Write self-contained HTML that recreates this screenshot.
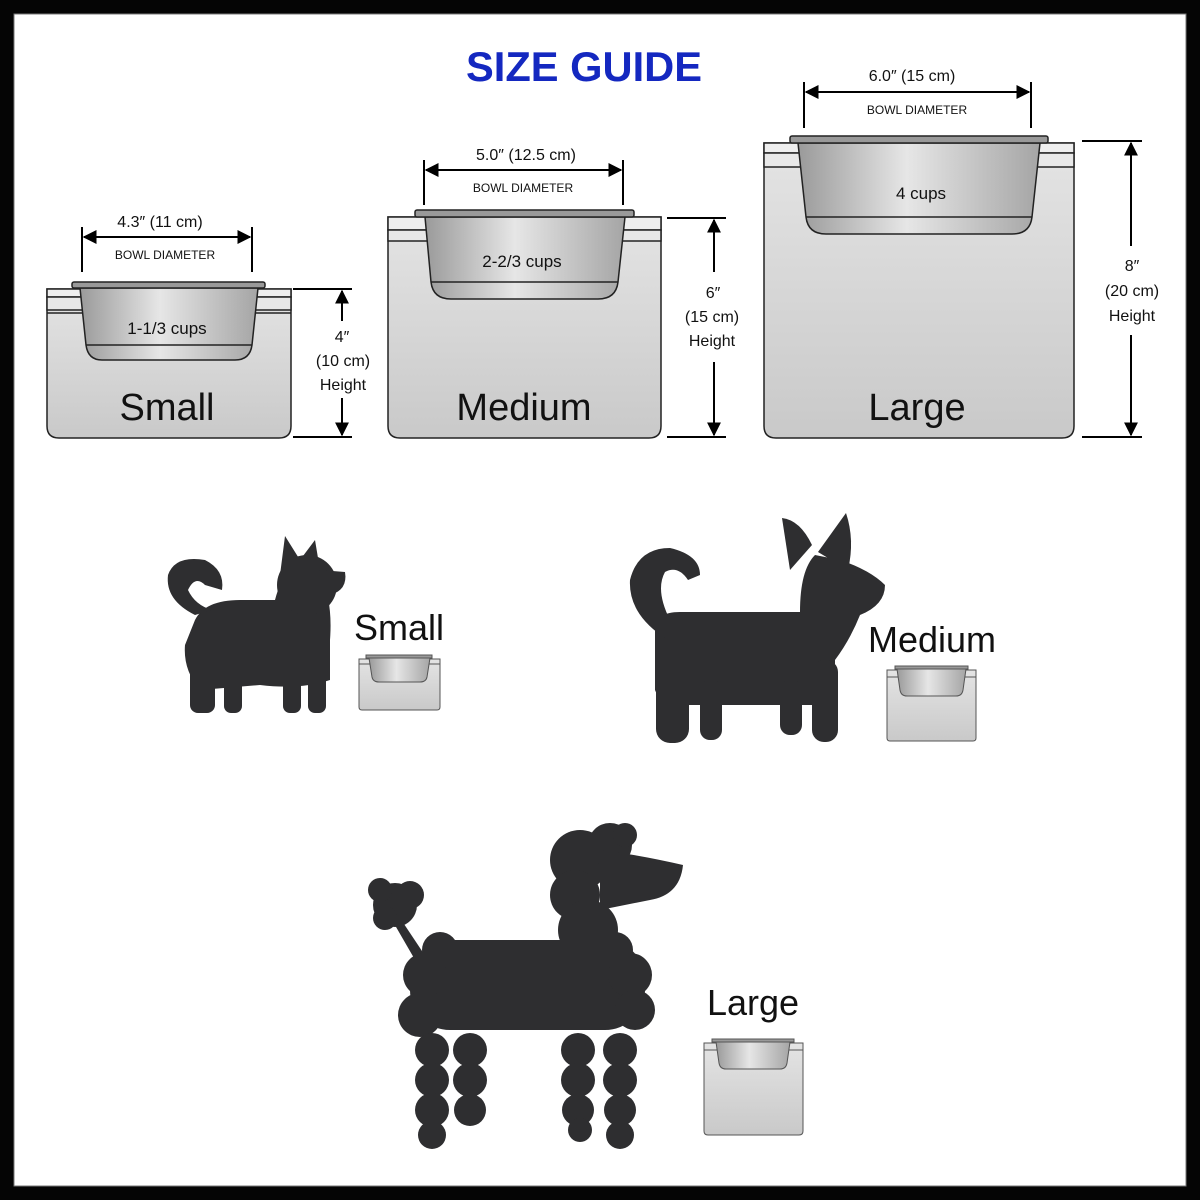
<!DOCTYPE html>
<html><head><meta charset="utf-8"><style>
html,body{margin:0;padding:0;background:#000}
svg{display:block}
text{font-family:"Liberation Sans",sans-serif}
</style></head><body>
<svg width="1200" height="1200" viewBox="0 0 1200 1200" xmlns="http://www.w3.org/2000/svg">
<defs>
<linearGradient id="st" x1="0" y1="0" x2="0" y2="1"><stop offset="0" stop-color="#e4e4e4"/><stop offset="1" stop-color="#c9c9c9"/></linearGradient>
<linearGradient id="bw" x1="0" y1="0" x2="1" y2="0"><stop offset="0" stop-color="#9a9a9a"/><stop offset=".45" stop-color="#e6e6e6"/><stop offset="1" stop-color="#a5a5a5"/></linearGradient>
<marker id="ar" viewBox="0 0 10 10" refX="9" refY="5" markerWidth="7" markerHeight="7" orient="auto-start-reverse"><path d="M0,0L10,5L0,10z" fill="#000"/></marker>
</defs>
<rect x="0" y="0" width="1200" height="1200" fill="#050505"/>
<rect x="14" y="14" width="1172" height="1172" fill="#fff" stroke="#777" stroke-width="1"/>
<text x="584" y="81" text-anchor="middle" font-size="42" font-weight="bold" fill="#1428c0" textLength="236" lengthAdjust="spacingAndGlyphs">SIZE GUIDE</text>

<g stroke="#222" stroke-width="1.5">
<path d="M47,289H291V426Q291,438 279,438H59Q47,438 47,426Z" fill="url(#st)"/>
<rect x="47" y="289" width="244" height="8" fill="#eee"/>
<rect x="47" y="297" width="244" height="13" fill="#e8e8e8"/>
<line x1="47" y1="313" x2="291" y2="313"/>
<path d="M80,288H258L252,345Q250,360 235,360H102Q88,360 86,345Z" fill="url(#bw)"/>
<line x1="86" y1="345" x2="252" y2="345"/>
<rect x="72" y="282" width="193" height="6" rx="2" fill="#999"/>
<path d="M388,217H661V426Q661,438 649,438H400Q388,438 388,426Z" fill="url(#st)"/>
<rect x="388" y="217" width="273" height="13" fill="#eee"/>
<rect x="388" y="230" width="273" height="11" fill="#e8e8e8"/>
<path d="M425,217H625L618,282Q616,299 598,299H451Q433,299 431,282Z" fill="url(#bw)"/>
<line x1="431" y1="282" x2="618" y2="282"/>
<rect x="415" y="210" width="219" height="7" rx="2" fill="#999"/>
<path d="M764,143H1074V426Q1074,438 1062,438H776Q764,438 764,426Z" fill="url(#st)"/>
<rect x="764" y="143" width="310" height="10" fill="#eee"/>
<rect x="764" y="153" width="310" height="14" fill="#e8e8e8"/>
<path d="M798,143H1040L1032,217Q1030,234 1012,234H826Q808,234 806,217Z" fill="url(#bw)"/>
<line x1="806" y1="217" x2="1032" y2="217"/>
<rect x="790" y="136" width="258" height="7" rx="2" fill="#999"/>
</g>

<g font-size="17" fill="#111" text-anchor="middle">
<text x="167" y="334">1-1/3 cups</text>
<text x="522" y="267">2-2/3 cups</text>
<text x="921" y="199">4 cups</text>
</g>
<g font-size="38" fill="#111" text-anchor="middle">
<text x="167" y="420">Small</text>
<text x="524" y="420">Medium</text>
<text x="917" y="420">Large</text>
</g>

<g stroke="#000" stroke-width="2">
<line x1="82" y1="227" x2="82" y2="272"/><line x1="252" y1="227" x2="252" y2="272"/>
<line x1="84" y1="237" x2="250" y2="237" marker-start="url(#ar)" marker-end="url(#ar)"/>
<line x1="424" y1="160" x2="424" y2="205"/><line x1="623" y1="160" x2="623" y2="205"/>
<line x1="426" y1="170" x2="621" y2="170" marker-start="url(#ar)" marker-end="url(#ar)"/>
<line x1="804" y1="82" x2="804" y2="128"/><line x1="1031" y1="82" x2="1031" y2="128"/>
<line x1="806" y1="92" x2="1029" y2="92" marker-start="url(#ar)" marker-end="url(#ar)"/>
<line x1="293" y1="289" x2="352" y2="289"/><line x1="293" y1="437" x2="352" y2="437"/>
<line x1="342" y1="321" x2="342" y2="291" marker-end="url(#ar)"/><line x1="342" y1="398" x2="342" y2="435" marker-end="url(#ar)"/>
<line x1="667" y1="218" x2="726" y2="218"/><line x1="667" y1="437" x2="726" y2="437"/>
<line x1="714" y1="272" x2="714" y2="220" marker-end="url(#ar)"/><line x1="714" y1="362" x2="714" y2="435" marker-end="url(#ar)"/>
<line x1="1082" y1="141" x2="1142" y2="141"/><line x1="1082" y1="437" x2="1142" y2="437"/>
<line x1="1131" y1="246" x2="1131" y2="143" marker-end="url(#ar)"/><line x1="1131" y1="335" x2="1131" y2="435" marker-end="url(#ar)"/>
</g>
<g fill="#111" text-anchor="middle">
<text x="160" y="227" font-size="16">4.3″ (11 cm)</text>
<text x="165" y="259" font-size="12">BOWL DIAMETER</text>
<text x="526" y="160" font-size="16">5.0″ (12.5 cm)</text>
<text x="523" y="192" font-size="12">BOWL DIAMETER</text>
<text x="912" y="81" font-size="16">6.0″ (15 cm)</text>
<text x="917" y="114" font-size="12">BOWL DIAMETER</text>
<g font-size="16">
<text x="342" y="342">4″</text><text x="343" y="366">(10 cm)</text><text x="343" y="390">Height</text>
<text x="713" y="298">6″</text><text x="712" y="322">(15 cm)</text><text x="712" y="346">Height</text>
<text x="1132" y="271">8″</text><text x="1132" y="296">(20 cm)</text><text x="1132" y="321">Height</text>
</g>
</g>

<g stroke="#555" stroke-width="1">
<path d="M359,659H440V707Q440,710 437,710H362Q359,710 359,707Z" fill="url(#st)"/>
<line x1="359" y1="664" x2="440" y2="664"/>
<path d="M369,658H430L427,677Q426,682 420,682H379Q373,682 372,677Z" fill="url(#bw)"/>
<rect x="366" y="655" width="66" height="3" fill="#999"/>
<path d="M887,670H976V738Q976,741 973,741H890Q887,741 887,738Z" fill="url(#st)"/>
<line x1="887" y1="677" x2="976" y2="677"/>
<path d="M897,669H966L963,690Q962,696 956,696H907Q901,696 900,690Z" fill="url(#bw)"/>
<rect x="895" y="666" width="73" height="3" fill="#999"/>
<path d="M704,1043H803V1131Q803,1135 799,1135H708Q704,1135 704,1131Z" fill="url(#st)"/>
<line x1="704" y1="1050" x2="803" y2="1050"/>
<path d="M716,1042H790L787,1063Q786,1069 780,1069H726Q720,1069 719,1063Z" fill="url(#bw)"/>
<rect x="712" y="1039" width="82" height="3" fill="#999"/>
</g>
<g font-size="36" fill="#111" text-anchor="middle">
<text x="399" y="640">Small</text>
<text x="932" y="652">Medium</text>
<text x="753" y="1015">Large</text>
</g>

<g fill="#2e2e30">
<path d="M195,620Q205,600 240,600L275,600Q280,580 290,572L320,575Q333,600 330,640L330,680Q300,690 260,685L200,690Q183,670 185,645Z"/>
<circle cx="307" cy="585" r="30"/>
<path d="M280,575L285,536L300,560L315,540L320,570Z"/>
<path d="M320,570L345,572Q348,590 330,595L315,600Z"/>
<path d="M195,615Q165,600 168,575Q175,555 205,560Q225,570 222,590L205,585Q195,575 188,590Q195,605 212,610Z"/>
<rect x="190" y="640" width="25" height="73" rx="8"/>
<rect x="224" y="660" width="18" height="53" rx="7"/>
<rect x="283" y="660" width="18" height="53" rx="7"/>
<rect x="308" y="640" width="18" height="73" rx="7"/>
</g>
<g fill="#2e2e30">
<path d="M655,630Q655,612 680,612L800,612Q800,570 815,555L840,560Q870,570 885,585Q885,605 860,615Q850,640 835,660L835,700Q835,705 830,705L680,705Q660,705 655,690Z"/>
<path d="M790,570L782,518Q800,520 812,545Z"/>
<path d="M818,552L846,513Q855,540 848,570Z"/>
<path d="M668,640Q628,615 630,580Q638,548 670,548Q700,555 700,575L688,580Q678,565 665,572Q655,590 670,620Z"/>
<rect x="656" y="660" width="33" height="83" rx="14"/>
<rect x="700" y="680" width="22" height="60" rx="10"/>
<rect x="780" y="680" width="22" height="55" rx="10"/>
<rect x="812" y="660" width="26" height="82" rx="12"/>
</g>
<g fill="#2e2e30">
<circle cx="580" cy="860" r="30"/><circle cx="610" cy="845" r="22"/><circle cx="625" cy="835" r="12"/><circle cx="575" cy="895" r="25"/>
<path d="M600,850Q640,855 683,865Q680,895 650,900L600,910Z"/>
<circle cx="588" cy="930" r="30"/>
<circle cx="395" cy="905" r="22"/><circle cx="380" cy="890" r="12"/><circle cx="410" cy="895" r="14"/><circle cx="385" cy="918" r="12"/>
<path d="M398,915L428,960L418,965L392,920Z"/>
<rect x="410" y="940" width="235" height="90" rx="40"/>
<circle cx="425" cy="975" r="22"/><circle cx="630" cy="975" r="22"/><circle cx="440" cy="950" r="18"/><circle cx="615" cy="950" r="18"/>
<circle cx="420" cy="1015" r="22"/><circle cx="635" cy="1010" r="20"/>
<circle cx="432" cy="1050" r="17"/><circle cx="432" cy="1080" r="17"/><circle cx="432" cy="1110" r="17"/><circle cx="432" cy="1135" r="14"/>
<circle cx="470" cy="1050" r="17"/><circle cx="470" cy="1080" r="17"/><circle cx="470" cy="1110" r="16"/>
<circle cx="578" cy="1050" r="17"/><circle cx="578" cy="1080" r="17"/><circle cx="578" cy="1110" r="16"/><circle cx="580" cy="1130" r="12"/>
<circle cx="620" cy="1050" r="17"/><circle cx="620" cy="1080" r="17"/><circle cx="620" cy="1110" r="16"/><circle cx="620" cy="1135" r="14"/>
</g>
</svg>
</body></html>
